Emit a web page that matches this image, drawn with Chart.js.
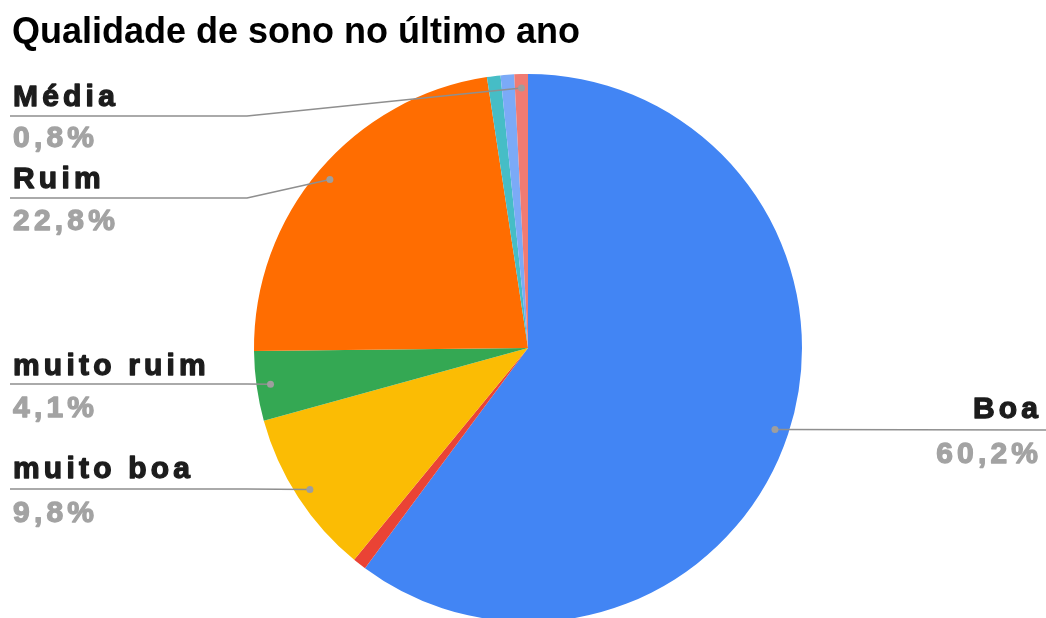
<!DOCTYPE html>
<html lang="pt-BR">
<head>
<meta charset="utf-8">
<title>Qualidade de sono no último ano</title>
<script src="https://cdn.jsdelivr.net/npm/chart.js@4/dist/chart.umd.min.js"></script>
<style>
  html, body { margin: 0; padding: 0; background: #ffffff; overflow: hidden; }
  #wrap { width: 1046px; height: 640px; }
</style>
</head>
<body>
<div id="wrap"><canvas id="chart" width="1046" height="640"></canvas></div>
<script>
// Respostas por categoria (percentual), na ordem horária a partir do topo
const categories = ['Boa', 'Excelente', 'muito boa', 'muito ruim', 'Ruim', 'Péssima', 'Regular', 'Média'];
const values     = [60.2, 0.8, 9.8, 4.1, 22.8, 0.8, 0.8, 0.8];
const colors     = ['#4285F4', '#EA4335', '#FBBC04', '#34A853', '#FF6D01', '#46BDC6', '#7BAAF7', '#F07B72'];
const titleText  = 'Qualidade de sono no último ano';

// Posição dos rótulos com linha de chamada (só as fatias rotuladas)
const labelLayout = {
  'Média':      { side: 'left',  nameY: 106, lineY: 116, pctY: 147, elbowX: 247 },
  'Ruim':       { side: 'left',  nameY: 188, lineY: 198, pctY: 230, elbowX: 247 },
  'muito ruim': { side: 'left',  nameY: 375, lineY: 384, pctY: 417, elbowX: 247 },
  'muito boa':  { side: 'left',  nameY: 478, lineY: 489, pctY: 522, elbowX: 247 },
  'Boa':        { side: 'right', nameY: 418, lineY: 430, pctY: 463, elbowX: 1046 }
};

const FONT = '"Liberation Sans", Arial, sans-serif';
const SPACING = 4.2;

function fmtPct(v) {
  return v.toFixed(1).replace('.', ',') + '%';
}

// Texto em negrito reforçado, com espaçamento entre letras
function heavyText(ctx, text, x, y, align, color) {
  ctx.letterSpacing = SPACING + 'px';
  const w = ctx.measureText(text).width - SPACING;
  const startX = align === 'right' ? x - w : x;
  ctx.textAlign = 'left';
  ctx.fillStyle = color;
  ctx.strokeStyle = color;
  ctx.lineWidth = 1.3;
  ctx.lineJoin = 'round';
  ctx.fillText(text, startX, y);
  ctx.strokeText(text, startX, y);
  ctx.letterSpacing = '0px';
}

const calloutPlugin = {
  id: 'callouts',
  afterDraw(chart) {
    const ctx = chart.ctx;
    ctx.save();

    // Título
    ctx.font = 'bold 36px ' + FONT;
    ctx.fillStyle = '#000000';
    ctx.textBaseline = 'alphabetic';
    ctx.textAlign = 'left';
    ctx.fillText(titleText, 12, 43);

    const meta = chart.getDatasetMeta(0);
    meta.data.forEach((arc, i) => {
      const name = categories[i];
      const lay = labelLayout[name];
      if (!lay) return;
      const p = arc.getProps(['x', 'y', 'startAngle', 'endAngle', 'outerRadius'], true);
      const mid = (p.startAngle + p.endAngle) / 2;
      const r = p.outerRadius * 0.949;
      const dx = p.x + Math.cos(mid) * r;
      const dy = p.y + Math.sin(mid) * r;

      // Linha de chamada
      ctx.strokeStyle = '#8f8f8f';
      ctx.lineWidth = 1.5;
      ctx.beginPath();
      if (lay.side === 'left') {
        ctx.moveTo(10, lay.lineY);
        ctx.lineTo(Math.min(lay.elbowX, dx), lay.lineY);
        ctx.lineTo(dx, dy);
      } else {
        ctx.moveTo(dx, dy);
        ctx.lineTo(lay.elbowX, lay.lineY);
      }
      ctx.stroke();

      ctx.fillStyle = '#9e9e9e';
      ctx.beginPath();
      ctx.arc(dx, dy, 3.5, 0, Math.PI * 2);
      ctx.fill();

      // Texto: nome e percentual
      const tx = lay.side === 'left' ? 13 : 1038;
      ctx.font = 'bold 30px ' + FONT;
      heavyText(ctx, name, tx, lay.nameY, lay.side, '#1c1c1c');
      heavyText(ctx, fmtPct(values[i]), tx, lay.pctY, lay.side, '#a3a3a3');
    });
    ctx.restore();
  }
};

new Chart(document.getElementById('chart'), {
  type: 'pie',
  data: {
    labels: categories,
    datasets: [{
      data: values,
      backgroundColor: colors,
      borderWidth: 0,
      hoverOffset: 0
    }]
  },
  options: {
    responsive: false,
    animation: false,
    layout: { padding: { top: 74, bottom: 18, left: 200, right: 190 } },
    plugins: {
      legend: { display: false },
      tooltip: { enabled: false },
      title: { display: false }
    }
  },
  plugins: [calloutPlugin]
});
</script>
</body>
</html>
